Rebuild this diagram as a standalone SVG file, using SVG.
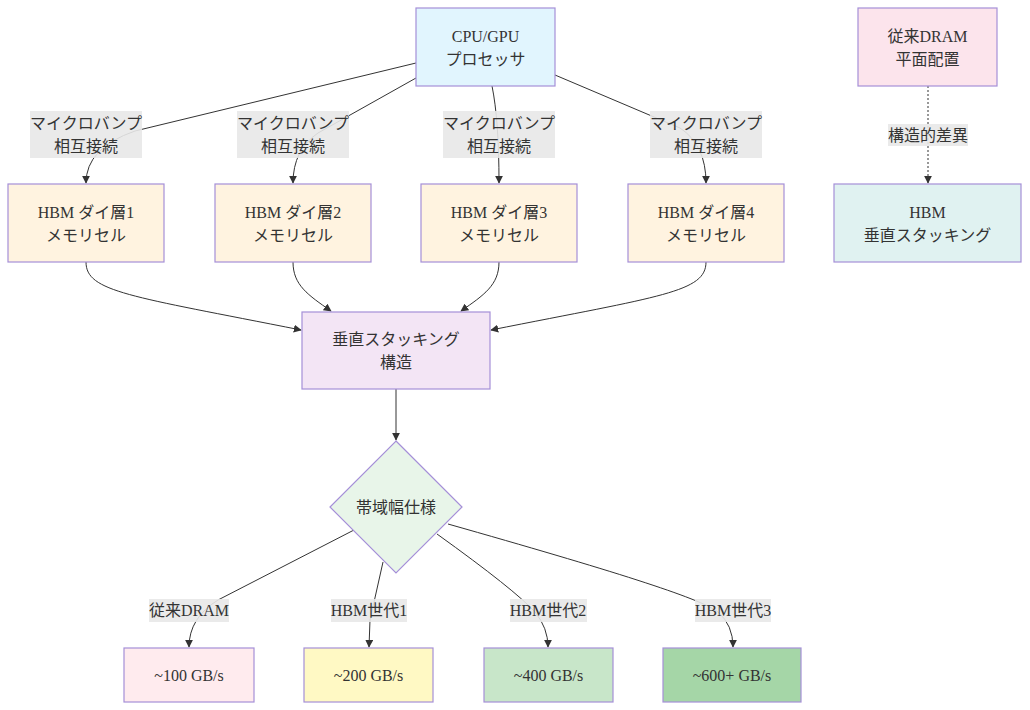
<svg xmlns="http://www.w3.org/2000/svg" width="1030" height="710" viewBox="0 0 1030 710">
<defs>
<style>
text{font-family:"Liberation Serif","Noto Sans CJK JP",serif;font-size:16px;fill:#333;text-anchor:middle;dominant-baseline:central}
.n{stroke:#a58fd8;stroke-width:1.2}
.e{fill:none;stroke:#333;stroke-width:1}
.d{stroke-dasharray:2 2}
.lb{fill:#e8e8e8;opacity:0.9}
</style>
<marker id="a" viewBox="0 0 10 10" refX="9" refY="5" markerWidth="8" markerHeight="8" markerUnits="userSpaceOnUse" orient="auto">
<path d="M0,0 L10,5 L0,10 z" fill="#333"/>
</marker>
</defs>
<rect width="1030" height="710" fill="#fff"/>
<g id="connectors">
<path class="e" d="M416,63 L135,131 Q86,148 86,183" marker-end="url(#a)"/>
<path class="e" d="M416,78 L318,133 Q293,150 293,183" marker-end="url(#a)"/>
<path class="e" d="M492,86 Q499,120 499,183" marker-end="url(#a)"/>
<path class="e" d="M555,75 L680,128 Q706,145 706,183" marker-end="url(#a)"/>
<path class="e" d="M86,262 C86,292 130,296 301,330" marker-end="url(#a)"/>
<path class="e" d="M293,262 C293,285 308,295 331,311" marker-end="url(#a)"/>
<path class="e" d="M499,262 C499,285 484,295 461,311" marker-end="url(#a)"/>
<path class="e" d="M706,262 C706,292 662,296 491,330" marker-end="url(#a)"/>
<path class="e" d="M396,389 L396,440" marker-end="url(#a)"/>
<path class="e" d="M354,530 L218,600 Q189,618 189,647" marker-end="url(#a)"/>
<path class="e" d="M383,562 L370,620 L369,647" marker-end="url(#a)"/>
<path class="e" d="M437,534 Q515,590 535,612 Q548,628 548,647" marker-end="url(#a)"/>
<path class="e" d="M448,524 C610,570 700,598 718,612 Q733,625 733,647" marker-end="url(#a)"/>
<path class="e d" d="M928,86 L928,183" marker-end="url(#a)"/>
</g>
<g id="edge-labels">
<rect class="lb" x="30" y="111" width="112" height="47"/>
<text x="86" y="123">マイクロバンプ</text><text x="86" y="146">相互接続</text>
<rect class="lb" x="237" y="111" width="112" height="47"/>
<text x="293" y="123">マイクロバンプ</text><text x="293" y="146">相互接続</text>
<rect class="lb" x="443" y="111" width="112" height="47"/>
<text x="499" y="123">マイクロバンプ</text><text x="499" y="146">相互接続</text>
<rect class="lb" x="650" y="111" width="112" height="47"/>
<text x="706" y="123">マイクロバンプ</text><text x="706" y="146">相互接続</text>
<rect class="lb" x="888" y="124" width="80" height="22"/>
<text x="928" y="135">構造的差異</text>
<rect class="lb" x="149" y="599" width="80" height="23"/>
<text x="189" y="610">従来DRAM</text>
<rect class="lb" x="331" y="599" width="76" height="23"/>
<text x="369" y="610">HBM世代1</text>
<rect class="lb" x="510" y="599" width="77" height="23"/>
<text x="548" y="610">HBM世代2</text>
<rect class="lb" x="695" y="599" width="76" height="23"/>
<text x="733" y="610">HBM世代3</text>
</g>
<g id="cpu"><rect class="n" x="416" y="8" width="139" height="78" fill="#e1f5fe"/><text x="485.5" y="36">CPU/GPU</text><text x="485.5" y="59">プロセッサ</text></g>
<g id="dram-flat"><rect class="n" x="858" y="8" width="139" height="78" fill="#fce4ec"/><text x="927.5" y="36">従来DRAM</text><text x="927.5" y="59">平面配置</text></g>
<g id="die1"><rect class="n" x="8" y="184" width="156" height="78" fill="#fff3e0"/><text x="86" y="212">HBM ダイ層1</text><text x="86" y="235">メモリセル</text></g>
<g id="die2"><rect class="n" x="215" y="184" width="156" height="78" fill="#fff3e0"/><text x="293" y="212">HBM ダイ層2</text><text x="293" y="235">メモリセル</text></g>
<g id="die3"><rect class="n" x="421" y="184" width="156" height="78" fill="#fff3e0"/><text x="499" y="212">HBM ダイ層3</text><text x="499" y="235">メモリセル</text></g>
<g id="die4"><rect class="n" x="628" y="184" width="156" height="78" fill="#fff3e0"/><text x="706" y="212">HBM ダイ層4</text><text x="706" y="235">メモリセル</text></g>
<g id="hbm-vert"><rect class="n" x="834" y="184" width="187" height="78" fill="#e0f2f1"/><text x="927.5" y="212">HBM</text><text x="927.5" y="235">垂直スタッキング</text></g>
<g id="stack"><rect class="n" x="302" y="312" width="188" height="77" fill="#f3e5f5"/><text x="396" y="339">垂直スタッキング</text><text x="396" y="362">構造</text></g>
<g id="bw"><polygon class="n" points="396,441 462,507 396,573 330,507" fill="#e8f5e9"/><text x="396" y="507">帯域幅仕様</text></g>
<g id="bw100"><rect class="n" x="124" y="648" width="130" height="54" fill="#ffebee"/><text x="189" y="675">~100 GB/s</text></g>
<g id="bw200"><rect class="n" x="304" y="648" width="129" height="54" fill="#fff9c4"/><text x="368.5" y="675">~200 GB/s</text></g>
<g id="bw400"><rect class="n" x="484" y="648" width="129" height="54" fill="#c8e6c9"/><text x="548.5" y="675">~400 GB/s</text></g>
<g id="bw600"><rect class="n" x="663" y="648" width="138" height="54" fill="#a5d6a7"/><text x="732" y="675">~600+ GB/s</text></g>
</svg>
